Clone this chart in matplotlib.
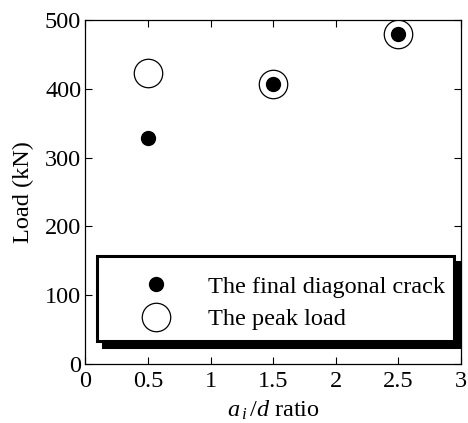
import matplotlib.pyplot as plt
from matplotlib.patches import Rectangle
from matplotlib.transforms import ScaledTranslation

plt.rcParams['font.family'] = ['Liberation Serif', 'DejaVu Serif']
plt.rcParams['mathtext.fontset'] = 'custom'
plt.rcParams['mathtext.rm'] = 'Liberation Serif'
plt.rcParams['mathtext.it'] = 'Liberation Serif:italic'

# a_i/d ratio and measured loads (kN)
ratio = [0.5, 1.5, 2.5]
crack_load = [328, 407, 480]
peak_load = [423, 407, 480]

fs = 17.5

fig = plt.figure(figsize=(4.68, 4.23), dpi=100)
ax = fig.add_axes([0.1825, 0.1395, 0.8025, 0.8132])

ax.plot(ratio, peak_load, 'o', ms=20.5, mfc='white', mec='black', mew=0.9,
        label='The peak load', zorder=2)
ax.plot(ratio, crack_load, 'o', ms=10, mfc='black', mec='black',
        label='The final diagonal crack', zorder=3)

ax.set_xlim(0, 3)
ax.set_ylim(0, 500)
ax.set_xticks([0, 0.5, 1, 1.5, 2, 2.5, 3])
ax.set_xticklabels(['0', '0.5', '1', '1.5', '2', '2.5', '3'])
ax.set_yticks([0, 100, 200, 300, 400, 500])
ax.tick_params(direction='in', length=5, width=0.8, top=True, right=True,
               labelsize=fs)
ax.tick_params(axis='x', pad=5)
ax.tick_params(axis='y', pad=3)
for s in ax.spines.values():
    s.set_linewidth(0.9)

ax.set_ylabel('Load (kN)', fontsize=fs, labelpad=8)
ax.set_xlabel(r'$a_{\,i}\,/d$ ratio', fontsize=fs, labelpad=5)

# legend box drawn by hand so the padding and drop shadow can be set freely
shift = ScaledTranslation(4.5 / 72, -4.5 / 72, fig.dpi_scale_trans)
shadow = Rectangle((0.031, 0.067), 0.95, 0.247, transform=ax.transAxes + shift,
                   facecolor='black', edgecolor='black', lw=2.2, zorder=3.9,
                   clip_on=False)
box = Rectangle((0.031, 0.067), 0.95, 0.247, transform=ax.transAxes,
                facecolor='white', edgecolor='black', lw=2.2, zorder=4)
ax.add_patch(shadow)
ax.add_patch(box)

h, l = ax.get_legend_handles_labels()
leg = ax.legend(h[::-1], l[::-1], loc='center left',
                bbox_to_anchor=(0.123, 0.177), frameon=False,
                fontsize=fs, borderaxespad=0, borderpad=0,
                handletextpad=1.14, labelspacing=0.42, handlelength=2)
leg.set_zorder(5)

fig.savefig('out.png', dpi=100)
